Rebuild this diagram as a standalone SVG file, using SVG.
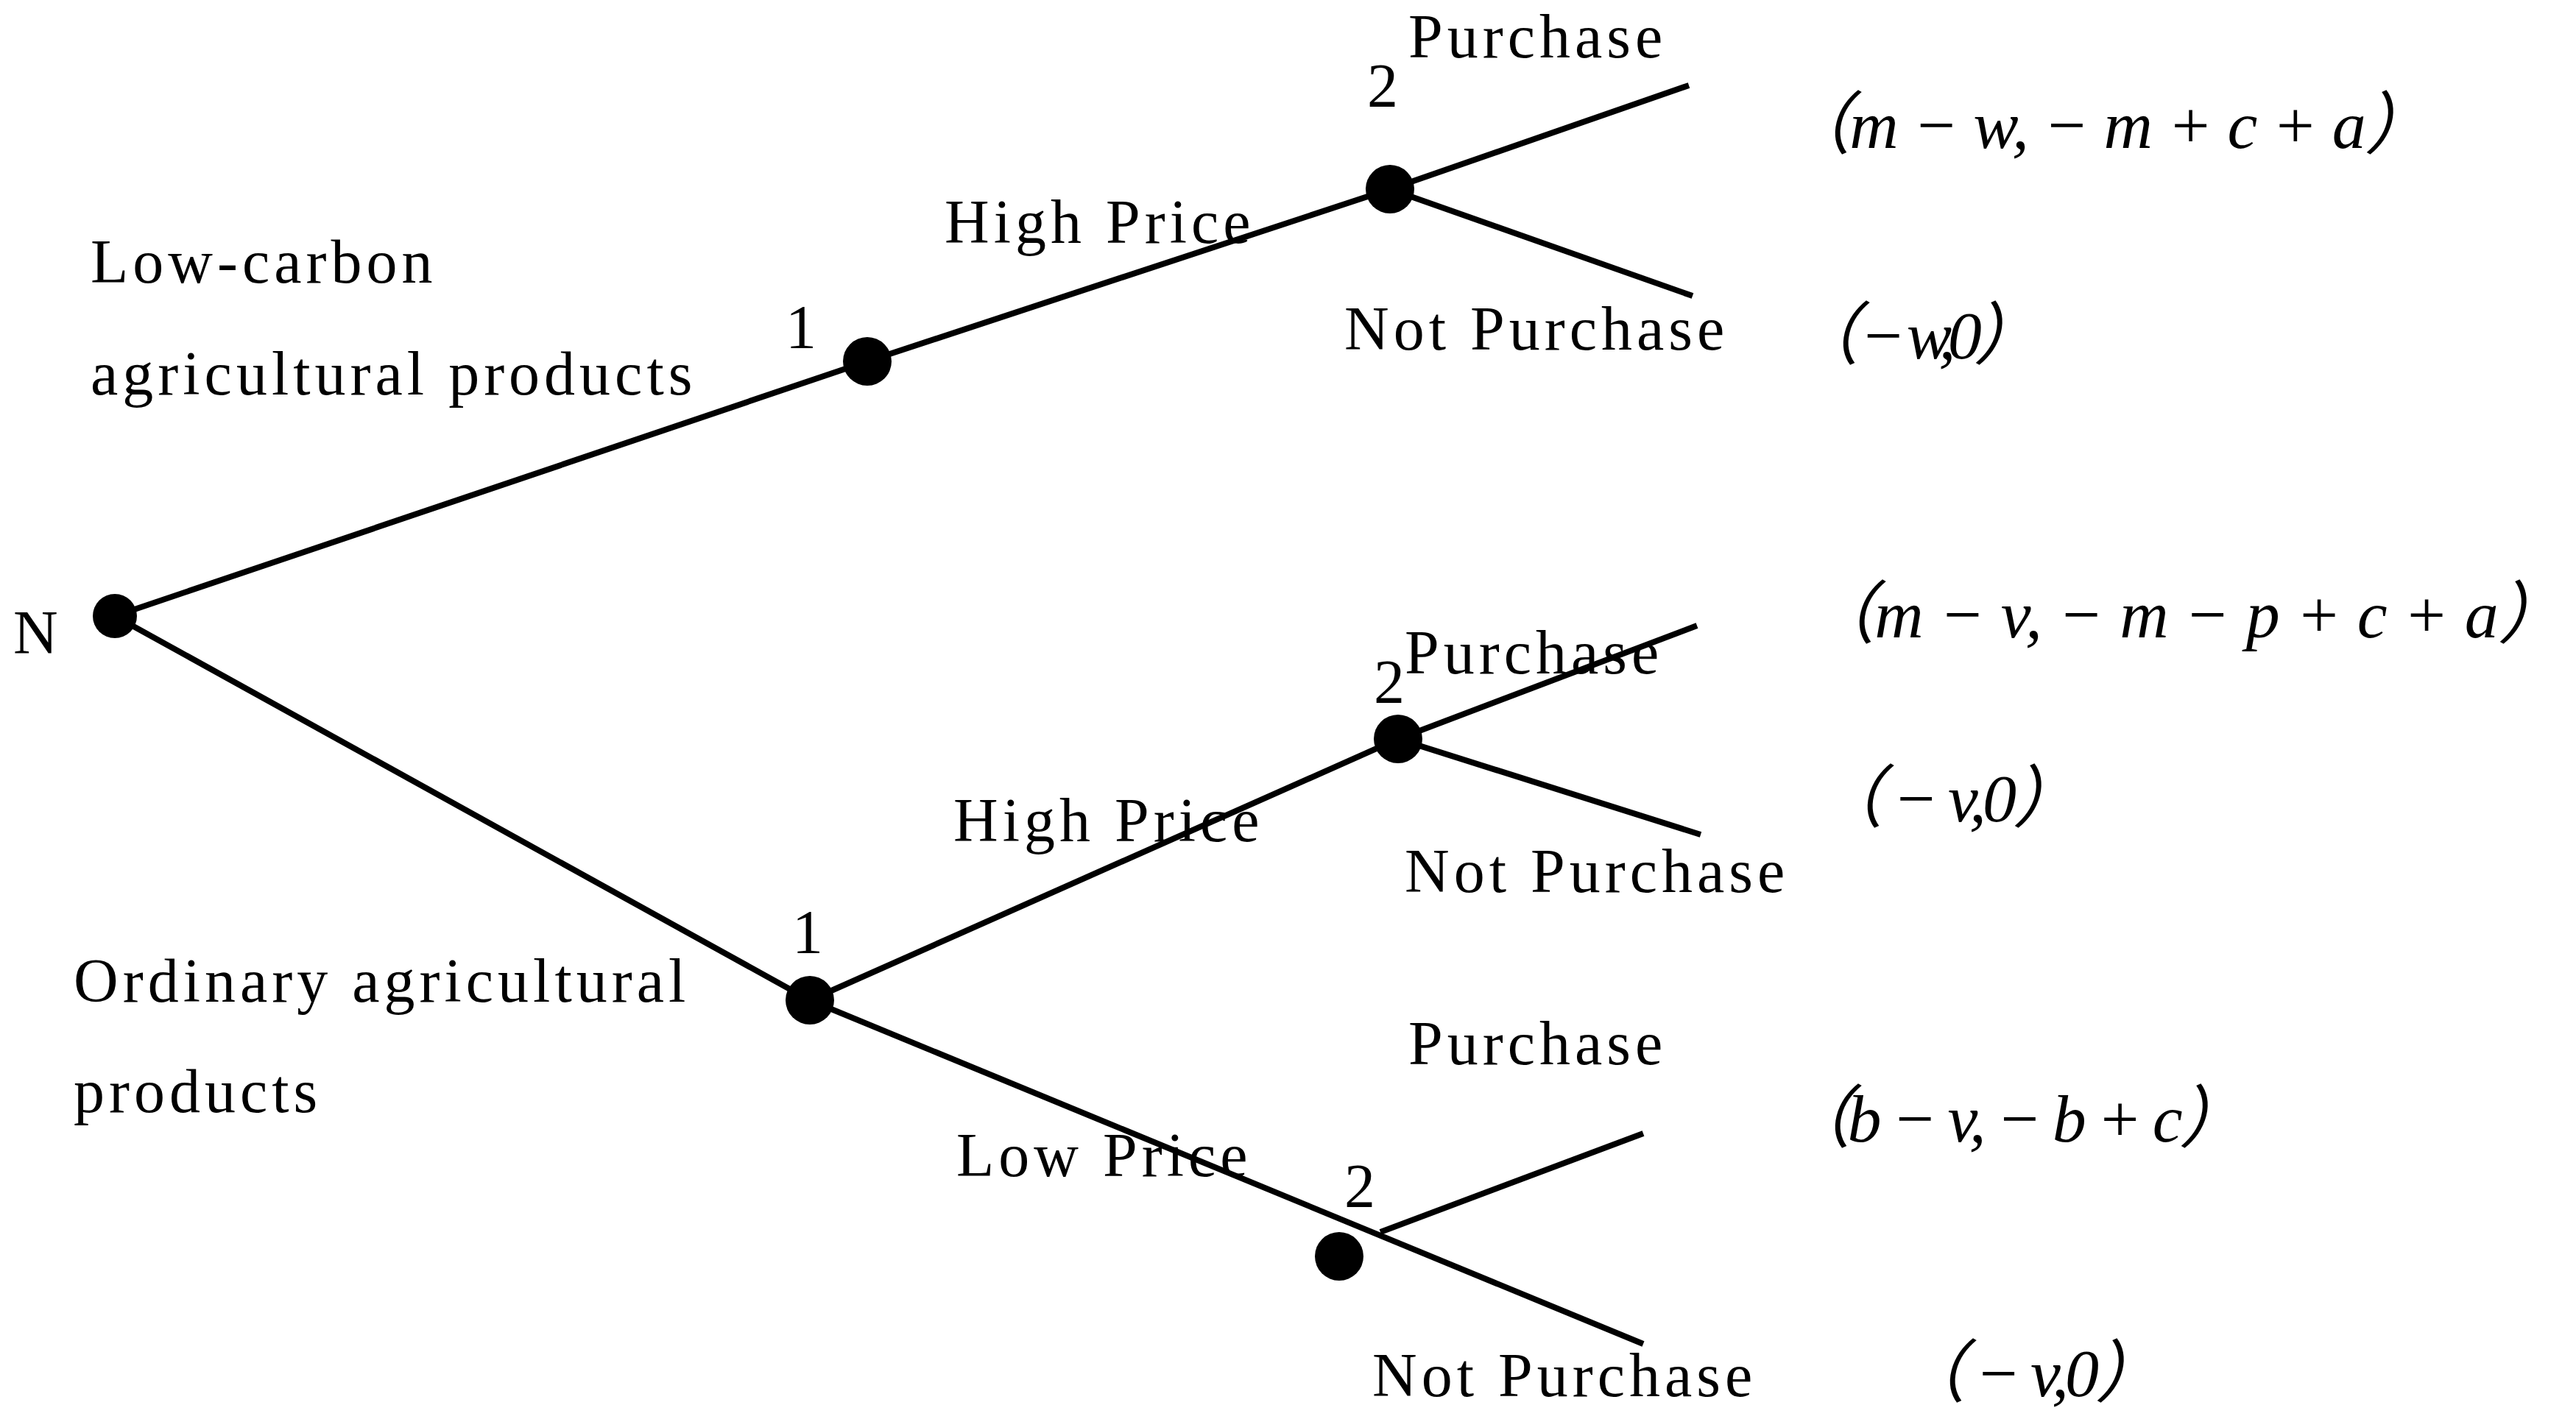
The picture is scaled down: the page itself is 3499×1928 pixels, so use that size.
<svg xmlns="http://www.w3.org/2000/svg" width="3499" height="1928" viewBox="0 0 3499 1928">
<style>
.l{stroke:#000;stroke-width:8;fill:none}
.d{fill:#000}
.t{font-family:"Liberation Serif",serif;font-size:84px;letter-spacing:6px;fill:#000}
.p{font-family:"Liberation Serif","Noto Sans CJK SC",serif;font-size:92px;font-style:italic;fill:#000}
</style>
<rect width="3499" height="1928" fill="#fff"/>
<g id="connectors">
<line class="l" x1="156" y1="837" x2="1178" y2="491"/>
<line class="l" x1="1178" y1="491" x2="1888" y2="257"/>
<line class="l" x1="1888" y1="257" x2="2294" y2="116"/>
<line class="l" x1="1888" y1="257" x2="2299" y2="402"/>
<line class="l" x1="156" y1="837" x2="1100" y2="1359"/>
<line class="l" x1="1100" y1="1359" x2="1899" y2="1004"/>
<line class="l" x1="1899" y1="1004" x2="2305" y2="850"/>
<line class="l" x1="1899" y1="1004" x2="2310" y2="1134"/>
<line class="l" x1="1100" y1="1359" x2="2232" y2="1826"/>
<line class="l" x1="1875" y1="1674" x2="2232" y2="1540"/>
</g>
<g id="nodeN"><circle class="d" cx="156" cy="837" r="30"/><text class="t" x="18" y="888">N</text></g>
<g id="node1a"><circle class="d" cx="1178" cy="491" r="33"/><text class="t" x="1067" y="473">1</text></g>
<g id="node2a"><circle class="d" cx="1888" cy="257" r="33"/><text class="t" x="1857" y="145">2</text></g>
<g id="node1b"><circle class="d" cx="1100" cy="1359" r="33"/><text class="t" x="1076" y="1295">1</text></g>
<g id="node2b"><circle class="d" cx="1899" cy="1004" r="33"/><text class="t" x="1866" y="955">2</text></g>
<g id="node2c"><circle class="d" cx="1819" cy="1707" r="33"/><text class="t" x="1826" y="1640">2</text></g>
<g id="labels">
<text class="t" x="123" y="384">Low-carbon</text>
<text class="t" x="123" y="536">agricultural products</text>
<text class="t" x="1283" y="330">High Price</text>
<text class="t" x="1913" y="78">Purchase</text>
<text class="t" x="1826" y="475">Not Purchase</text>
<text class="t" x="100" y="1361">Ordinary   agricultural</text>
<text class="t" x="100" y="1511">products</text>
<text class="t" x="1295" y="1143">High Price</text>
<text class="t" x="1908" y="915">Purchase</text>
<text class="t" x="1908" y="1212">Not Purchase</text>
<text class="t" x="1299" y="1598">Low Price</text>
<text class="t" x="1913" y="1446">Purchase</text>
<text class="t" x="1864" y="1897">Not Purchase</text>
<text class="p" x="2422" y="201" textLength="882">（m − w, − m + c + a）</text>
<text class="p" x="2433" y="487" textLength="340">（ − w,0）</text>
<text class="p" x="2455" y="866" textLength="1030">（m − v, − m − p + c + a）</text>
<text class="p" x="2466" y="1116" textLength="360">（ − v,0）</text>
<text class="p" x="2422" y="1551" textLength="630">（b − v, − b + c）</text>
<text class="p" x="2578" y="1897" textLength="360">（ − v,0）</text>
</g>
</svg>
